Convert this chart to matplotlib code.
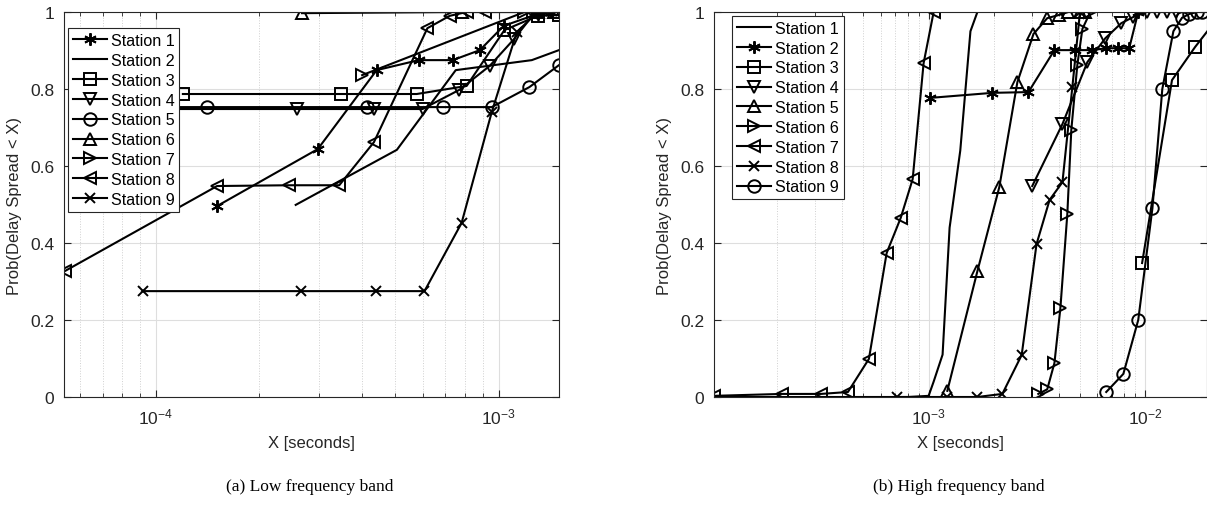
import numpy as np
import matplotlib.pyplot as plt

plt.rcParams['font.family'] = ['Liberation Sans', 'DejaVu Sans']
plt.rcParams['mathtext.fontset'] = 'custom'
plt.rcParams['mathtext.rm'] = 'Liberation Sans'

labels = ['Station 1', 'Station 2', 'Station 3', 'Station 4', 'Station 5',
          'Station 6', 'Station 7', 'Station 8', 'Station 9']

# low frequency band: delay spread (s) and empirical CDF
low_x = [
    [1.51e-4, 2.97e-4, 4.41e-4, 5.85e-4, 7.35e-4, 8.82e-4, 1.035e-3, 1.30e-3, 1.42e-3],
    [2.56e-4, 5.05e-4, 7.5e-4, 1.25e-3, 1.5e-3],
    [1.2e-4, 3.46e-4, 5.77e-4, 8.07e-4, 1.04e-3, 1.3e-3, 1.5e-3],
    [8.5e-5, 2.59e-4, 4.33e-4, 6.0e-4, 7.69e-4, 9.42e-4, 1.11e-3, 1.28e-3],
    [8.5e-5, 1.41e-4, 4.12e-4, 6.87e-4, 9.55e-4, 1.23e-3, 1.5e-3],
    [2.67e-4, 7.8e-4, 1.3e-3, 1.45e-3],
    [4.0e-4, 1.19e-3, 1.26e-3, 1.35e-3],
    [5.43e-5, 1.51e-4, 2.45e-4, 3.43e-4, 4.33e-4, 6.2e-4, 7.2e-4, 8.07e-4, 9.1e-4, 1.25e-3],
    [9.16e-5, 2.65e-4, 4.38e-4, 6.08e-4, 7.8e-4, 9.55e-4, 1.13e-3, 1.3e-3],
]
low_p = [
    [0.496, 0.644, 0.849, 0.875, 0.875, 0.901, 0.964, 0.995, 1.0],
    [0.499, 0.642, 0.849, 0.875, 0.901],
    [0.787, 0.787, 0.787, 0.808, 0.953, 0.99, 0.992],
    [0.748, 0.748, 0.748, 0.748, 0.798, 0.86, 0.93, 1.0],
    [0.753, 0.753, 0.753, 0.753, 0.753, 0.805, 0.862],
    [0.997, 1.0, 1.0, 1.0],
    [0.836, 1.0, 1.0, 1.0],
    [0.327, 0.548, 0.55, 0.55, 0.662, 0.958, 0.99, 1.0, 1.0, 1.0],
    [0.275, 0.275, 0.275, 0.275, 0.452, 0.74, 0.948, 1.0],
]
low_markers = [(6, 2, 0), None, 's', 'v', 'o', '^', '>', '<', 'x']

# high frequency band
high_x = [
    [1.02e-4, 8.0e-4, 1.0e-3, 1.055e-3, 1.16e-3, 1.25e-3, 1.40e-3, 1.56e-3, 1.68e-3],
    [1.02e-3, 1.97e-3, 2.89e-3, 3.81e-3, 4.75e-3, 5.7e-3, 6.61e-3, 7.5e-3, 8.44e-3, 9.29e-3],
    [9.68e-3, 1.33e-2, 1.70e-2, 2.2e-2],
    [3.01e-3, 4.15e-3, 5.41e-3, 6.55e-3, 7.76e-3, 8.81e-3, 1.02e-2, 1.13e-2, 1.26e-2, 1.39e-2],
    [1.22e-3, 1.68e-3, 2.12e-3, 2.57e-3, 3.05e-3, 3.53e-3, 3.98e-3, 4.42e-3, 5.01e-3, 5.3e-3],
    [3.21e-3, 3.53e-3, 3.81e-3, 4.06e-3, 4.37e-3, 4.56e-3, 4.86e-3, 5.13e-3, 5.58e-3],
    [1.02e-4, 2.1e-4, 3.18e-4, 4.24e-4, 5.3e-4, 6.4e-4, 7.43e-4, 8.44e-4, 9.48e-4, 1.055e-3],
    [7.13e-4, 1.22e-3, 1.68e-3, 2.19e-3, 2.69e-3, 3.15e-3, 3.62e-3, 4.15e-3, 4.61e-3, 5.0e-3],
    [6.61e-3, 7.93e-3, 9.29e-3, 1.08e-2, 1.2e-2, 1.35e-2, 1.48e-2, 1.6e-2, 1.74e-2, 1.83e-2],
]
high_p = [
    [0.0, 0.0, 0.003, 0.04, 0.11, 0.44, 0.64, 0.95, 1.0],
    [0.777, 0.79, 0.792, 0.901, 0.901, 0.901, 0.906, 0.906, 0.906, 1.0],
    [0.348, 0.823, 0.909, 0.99],
    [0.548, 0.709, 0.87, 0.932, 0.971, 0.987, 1.0, 1.0, 1.0, 1.0],
    [0.016, 0.327, 0.545, 0.818, 0.943, 0.984, 0.992, 1.0, 1.0, 1.0],
    [0.008, 0.02, 0.088, 0.231, 0.475, 0.694, 0.862, 0.956, 1.0],
    [0.003, 0.008, 0.008, 0.013, 0.099, 0.374, 0.465, 0.566, 0.867, 1.0],
    [0.0, 0.0, 0.0, 0.008, 0.109, 0.397, 0.512, 0.558, 0.805, 1.0],
    [0.013, 0.06, 0.2, 0.49, 0.80, 0.95, 0.985, 0.995, 1.0, 1.0],
]
high_markers = [None, (6, 2, 0), 's', 'v', '^', '>', '<', 'x', 'o']

fig = plt.figure(figsize=(12.07, 5.10), dpi=100)
ax1 = fig.add_axes([0.0530, 0.2196, 0.4101, 0.7549])
ax2 = fig.add_axes([0.5915, 0.2196, 0.4085, 0.7549])


def draw(ax, xs, ps, markers, xlim, legend_bbox):
    for x, p, m, lab in zip(xs, ps, markers, labels):
        ax.plot(x, p, color='k', lw=1.5, marker=m, ms=9 if m != 'x' else 6.5,
                mfc='none', mec='k', mew=1.4, label=lab)
    ax.set_xscale('log')
    ax.set_xlim(*xlim)
    ax.set_ylim(0, 1)
    ax.set_yticks([0, 0.2, 0.4, 0.6, 0.8, 1])
    ax.set_yticklabels(['0', '0.2', '0.4', '0.6', '0.8', '1'])
    ax.grid(True, which='major', color='#dedede', lw=0.8, ls='-')
    ax.grid(True, which='minor', axis='x', color='#d0d0d0', lw=0.7, ls=':')
    ax.tick_params(which='both', direction='in', top=True, right=True,
                   labelsize=12.5, colors='#262626', pad=7)
    ax.tick_params(which='major', length=5)
    ax.tick_params(which='minor', length=3)
    for s in ax.spines.values():
        s.set_color('#262626')
        s.set_linewidth(0.8)
    ax.set_xlabel('X [seconds]', fontsize=12, color='#262626', labelpad=6)
    ax.set_ylabel('Prob(Delay Spread < X)', fontsize=12, color='#262626', labelpad=6)
    leg = ax.legend(loc='upper left', bbox_to_anchor=legend_bbox, fontsize=11.6,
                    fancybox=False, framealpha=1, edgecolor='#262626',
                    labelspacing=0.3, handlelength=2.1, handletextpad=0.25,
                    borderpad=0.3, borderaxespad=0)
    leg.get_frame().set_linewidth(0.8)


draw(ax1, low_x, low_p, low_markers, (5.4e-5, 1.5e-3), (0.008, 0.958))
draw(ax2, high_x, high_p, high_markers, (1.02e-4, 1.93e-2), (0.037, 0.99))

fig.text(0.257, 0.045, '(a) Low frequency band', ha='center', va='center',
         fontsize=12.5, family='Liberation Serif')
fig.text(0.794, 0.045, '(b) High frequency band', ha='center', va='center',
         fontsize=12.5, family='Liberation Serif')

fig.savefig('out.png', dpi=100)
